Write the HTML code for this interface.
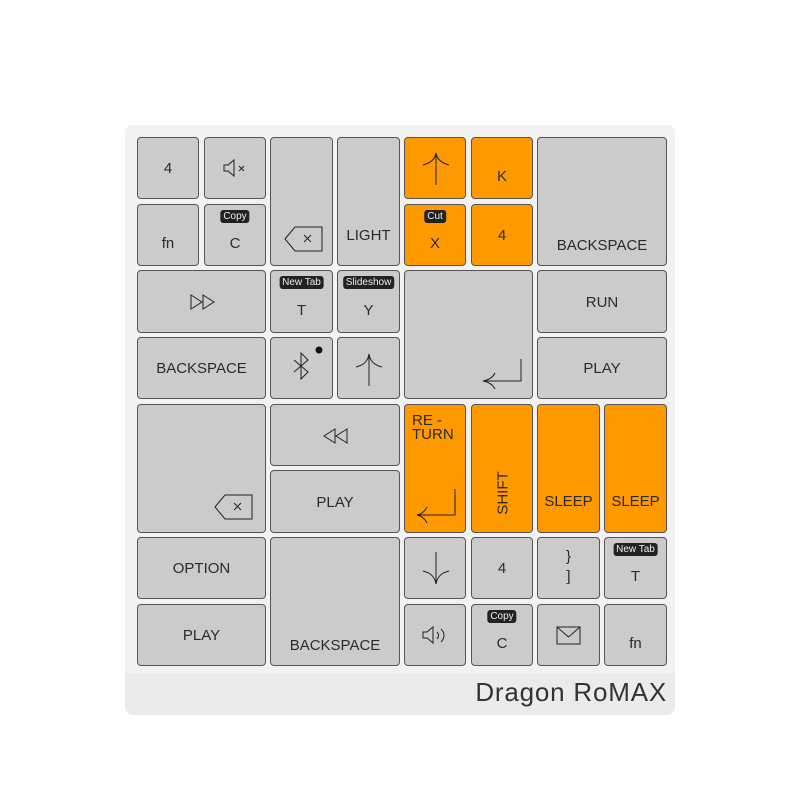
<!DOCTYPE html>
<html><head><meta charset="utf-8"><style>
body{margin:0;width:800px;height:800px;background:#fff;font-family:"Liberation Sans",sans-serif;position:relative;overflow:hidden}
.board{position:absolute;left:125px;top:125px;width:550px;height:590px;background:#ebebeb;border-radius:8px}
.inner{position:absolute;left:125px;top:125px;width:550px;height:548px;background:#f2f2f2;border-radius:8px 8px 0 0}
.k{position:absolute;box-sizing:border-box;background:#cbcbcb;border:1px solid #555;border-radius:4px;color:#2a2a2a;font-size:15px;text-align:center}
.o{background:#ff9900}
.t{position:absolute;left:0;right:0;text-align:center}
.tag{position:absolute;left:50%;transform:translateX(-50%);background:#222;color:#eee;font-size:10px;padding:0 3px;border-radius:3px;line-height:13px;white-space:nowrap}
svg{position:absolute}
.brand{position:absolute;right:133px;top:677px;font-size:26px;color:#333;letter-spacing:0.8px}
</style></head><body>
<div class="board"></div><div class="inner"></div>

<div class="k" style="left:137px;top:137px;width:62px;height:62px"><div class="t" style="top:22px">4</div></div>
<div class="k" style="left:204px;top:137px;width:62px;height:62px"><svg width="62" height="62" style="left:0;top:0"><path d="M19 27h4l6-5v16l-6-5h-4z" fill="none" stroke="#222"/><path d="M34 28l5 5M39 28l-5 5" stroke="#222"/></svg></div>
<div class="k" style="left:270px;top:137px;width:63px;height:129px"><svg width="63" height="129" style="left:0;top:0"><path d="M14 101l10-12h27v24h-27z" fill="none" stroke="#222"/><path d="M33 97l7 7M40 97l-7 7" stroke="#222"/></svg></div>
<div class="k" style="left:337px;top:137px;width:63px;height:129px"><div class="t" style="top:89px">LIGHT</div></div>
<div class="k o" style="left:404px;top:137px;width:62px;height:62px"><svg width="62" height="62" style="left:0;top:0"><path d="M31 47V15M18 27c8-2 12-6 13-12c1 6 5 10 13 12" fill="none" stroke="#222"/></svg></div>
<div class="k o" style="left:471px;top:137px;width:62px;height:62px"><div class="t" style="top:30px">K</div></div>
<div class="k" style="left:537px;top:137px;width:130px;height:129px"><div class="t" style="top:99px">BACKSPACE</div></div>

<div class="k" style="left:137px;top:204px;width:62px;height:62px"><div class="t" style="top:30px">fn</div></div>
<div class="k" style="left:204px;top:204px;width:62px;height:62px"><div class="tag" style="top:5px">Copy</div><div class="t" style="top:30px">C</div></div>
<div class="k o" style="left:404px;top:204px;width:62px;height:62px"><div class="tag" style="top:5px">Cut</div><div class="t" style="top:30px">X</div></div>
<div class="k o" style="left:471px;top:204px;width:62px;height:62px"><div class="t" style="top:22px">4</div></div>

<div class="k" style="left:137px;top:270px;width:129px;height:63px"><svg width="129" height="63" style="left:0;top:0"><path d="M53 24l11 7-11 7zM65 24l11 7-11 7z" fill="none" stroke="#222"/></svg></div>
<div class="k" style="left:270px;top:270px;width:63px;height:63px"><div class="tag" style="top:5px">New Tab</div><div class="t" style="top:31px">T</div></div>
<div class="k" style="left:337px;top:270px;width:63px;height:63px"><div class="tag" style="top:5px">Slideshow</div><div class="t" style="top:31px">Y</div></div>
<div class="k" style="left:404px;top:270px;width:129px;height:129px"><svg width="129" height="129" style="left:0;top:0"><path d="M116 88v22H78M90 102c-2 4-6 7-12 8c6 1 10 4 12 8" fill="none" stroke="#222"/></svg></div>
<div class="k" style="left:537px;top:270px;width:130px;height:63px"><div class="t" style="top:23px">RUN</div></div>

<div class="k" style="left:137px;top:337px;width:129px;height:62px"><div class="t" style="top:22px">BACKSPACE</div></div>
<div class="k" style="left:270px;top:337px;width:63px;height:62px"><svg width="63" height="62" style="left:0;top:0"><path d="M23 22l14 12-7 7V15l7 7-14 12" fill="none" stroke="#222"/><circle cx="48" cy="12" r="3.5" fill="#111"/></svg></div>
<div class="k" style="left:337px;top:337px;width:63px;height:62px"><svg width="63" height="62" style="left:0;top:0"><path d="M31 48V16M18 29c8-2 12-6 13-13c1 7 5 11 13 13" fill="none" stroke="#222"/></svg></div>
<div class="k" style="left:537px;top:337px;width:130px;height:62px"><div class="t" style="top:22px">PLAY</div></div>

<div class="k" style="left:137px;top:404px;width:129px;height:129px"><svg width="129" height="129" style="left:0;top:0"><path d="M77 102l10-12h27v24h-27z" fill="none" stroke="#222"/><path d="M96 98l7 7M103 98l-7 7" stroke="#222"/></svg></div>
<div class="k" style="left:270px;top:404px;width:130px;height:62px"><svg width="130" height="62" style="left:0;top:0"><path d="M64 24l-11 7 11 7zM76 24l-11 7 11 7z" fill="none" stroke="#222"/></svg></div>
<div class="k" style="left:270px;top:470px;width:130px;height:63px"><div class="t" style="top:23px">PLAY</div></div>
<div class="k o" style="left:404px;top:404px;width:62px;height:129px"><div style="position:absolute;left:7px;top:9px;text-align:left;line-height:14px;font-size:15px">RE -<br>TURN</div><svg width="62" height="129" style="left:0;top:0"><path d="M50 84v26H12M22 102c-2 4-5 7-10 8c5 1 8 4 10 8" fill="none" stroke="#222"/></svg></div>
<div class="k o" style="left:471px;top:404px;width:62px;height:129px"><div style="position:absolute;left:31px;top:88px;transform:translate(-50%,-50%) rotate(-90deg);white-space:nowrap">SHIFT</div></div>
<div class="k o" style="left:537px;top:404px;width:63px;height:129px"><div class="t" style="top:88px">SLEEP</div></div>
<div class="k o" style="left:604px;top:404px;width:63px;height:129px"><div class="t" style="top:88px">SLEEP</div></div>

<div class="k" style="left:137px;top:537px;width:129px;height:62px"><div class="t" style="top:22px">OPTION</div></div>
<div class="k" style="left:137px;top:604px;width:129px;height:62px"><div class="t" style="top:22px">PLAY</div></div>
<div class="k" style="left:270px;top:537px;width:130px;height:129px"><div class="t" style="top:99px">BACKSPACE</div></div>
<div class="k" style="left:404px;top:537px;width:62px;height:62px"><svg width="62" height="62" style="left:0;top:0"><path d="M31 14v32M18 33c8 2 12 6 13 13c1-7 5-11 13-13" fill="none" stroke="#222"/></svg></div>
<div class="k" style="left:471px;top:537px;width:62px;height:62px"><div class="t" style="top:22px">4</div></div>
<div class="k" style="left:537px;top:537px;width:63px;height:62px"><div class="t" style="top:9px;line-height:20px">}<br>]</div></div>
<div class="k" style="left:604px;top:537px;width:63px;height:62px"><div class="tag" style="top:5px">New Tab</div><div class="t" style="top:30px">T</div></div>
<div class="k" style="left:404px;top:604px;width:62px;height:62px"><svg width="62" height="62" style="left:0;top:0"><path d="M18 27h4l6-5v16l-6-5h-4z" fill="none" stroke="#222"/><path d="M32 27c2 2 2 5 0 7M36 24c4 4 4 9 0 13" fill="none" stroke="#222"/></svg></div>
<div class="k" style="left:471px;top:604px;width:62px;height:62px"><div class="tag" style="top:5px">Copy</div><div class="t" style="top:30px">C</div></div>
<div class="k" style="left:537px;top:604px;width:63px;height:62px"><svg width="63" height="62" style="left:0;top:0"><rect x="19" y="22" width="23" height="17" fill="none" stroke="#222"/><path d="M19 22l11.5 10L42 22" fill="none" stroke="#222"/></svg></div>
<div class="k" style="left:604px;top:604px;width:63px;height:62px"><div class="t" style="top:30px">fn</div></div>

<div class="brand">Dragon RoMAX</div>
</body></html>
